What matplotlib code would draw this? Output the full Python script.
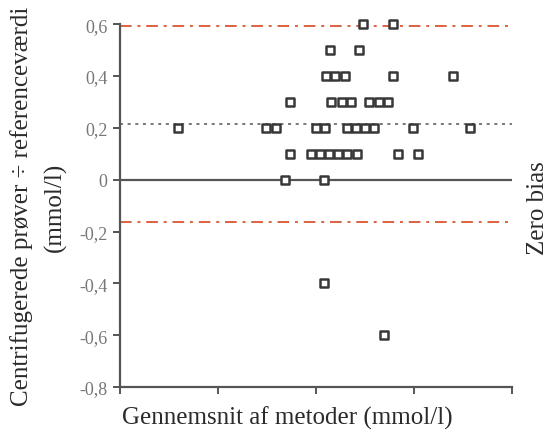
import matplotlib
matplotlib.use("Agg")
import matplotlib.pyplot as plt
from matplotlib.markers import MarkerStyle

# Data (x in axis units; tick labels are not legible)
x_vals = [2.48, 2.78,
          2.14, 2.44,
          2.10, 2.19, 2.29, 2.78, 3.40,
          1.73, 2.15, 2.26, 2.36, 2.54, 2.64, 2.73,
          0.59, 1.49, 1.59, 2.00, 2.09, 2.32, 2.41, 2.50, 2.59, 2.99, 3.57,
          1.73, 1.95, 2.04, 2.13, 2.22, 2.32, 2.42, 2.84, 3.04,
          1.68, 2.08,
          2.08,
          2.69]
y_vals = [0.6, 0.6,
          0.5, 0.5,
          0.4, 0.4, 0.4, 0.4, 0.4,
          0.3, 0.3, 0.3, 0.3, 0.3, 0.3, 0.3,
          0.2, 0.2, 0.2, 0.2, 0.2, 0.2, 0.2, 0.2, 0.2, 0.2, 0.2,
          0.1, 0.1, 0.1, 0.1, 0.1, 0.1, 0.1, 0.1, 0.1,
          0.0, 0.0,
          -0.4,
          -0.6]
mean_bias = 0.215
upper_loa = 0.593
lower_loa = -0.163
y_ticks = [0.6, 0.4, 0.2, 0.0, -0.2, -0.4, -0.6, -0.8]
y_tick_labels = ["0,6", "0,4", "0,2", "0", "-0,2", "-0,4", "-0,6", "-0,8"]
x_ticks = [0, 1, 2, 3, 4]

plt.rcParams['font.family'] = ['Liberation Serif', 'DejaVu Serif']

fig = plt.figure(figsize=(5.56, 4.35), dpi=100)
ax = fig.add_axes([0.216, 0.108, 0.705, 0.834])

axis_col = '#555555'
red = '#d9623f'

ax.axhline(upper_loa, color=red, lw=1.4, ls=(0, (6, 3, 1.5, 3)))
ax.axhline(lower_loa, color=red, lw=1.4, ls=(0, (6, 3, 1.5, 3)))
ax.axhline(mean_bias, color='#555555', lw=1.1, ls=(0, (2, 3)))
ax.axhline(0, color=axis_col, lw=1.6)

mk = MarkerStyle('s', fillstyle='full', joinstyle='round')
ax.plot(x_vals, y_vals, ls='none', marker=mk, markersize=5.6,
        markerfacecolor='white', markeredgecolor='#383838',
        markeredgewidth=1.8, clip_on=False, zorder=5)

ax.set_xlim(0, 4)
ax.set_ylim(-0.8, 0.6)
ax.set_xticks(x_ticks)
ax.set_xticklabels([''] * len(x_ticks))
ax.set_yticks(y_ticks)
ax.set_yticklabels(y_tick_labels, color='#777777', fontsize=13)

for s in ['top', 'right']:
    ax.spines[s].set_visible(False)
for s in ['left', 'bottom']:
    ax.spines[s].set_color(axis_col)
    ax.spines[s].set_linewidth(1.6)
ax.tick_params(axis='both', direction='out', length=5, width=1.4, color=axis_col)
ax.tick_params(axis='y', pad=4)

txt_col = '#2a2a2a'
fig.text(22 / 556, 1 - 206 / 435, "Centrifugerede prøver ÷ referenceværdi",
         fontsize=18, color=txt_col, rotation=90, ha='center', va='center')
fig.text(55 / 556, 1 - 207 / 435, "(mmol/l)",
         fontsize=18, color=txt_col, rotation=90, ha='center', va='center')
fig.text(287 / 556, 1 - 418 / 435, "Gennemsnit af metoder (mmol/l)", fontsize=18,
         color=txt_col, ha='center', va='center')
fig.text(538 / 556, 1 - 208 / 435, "Zero bias", fontsize=18, color=txt_col,
         rotation=90, ha='center', va='center')

fig.savefig("out.png", dpi=100)
